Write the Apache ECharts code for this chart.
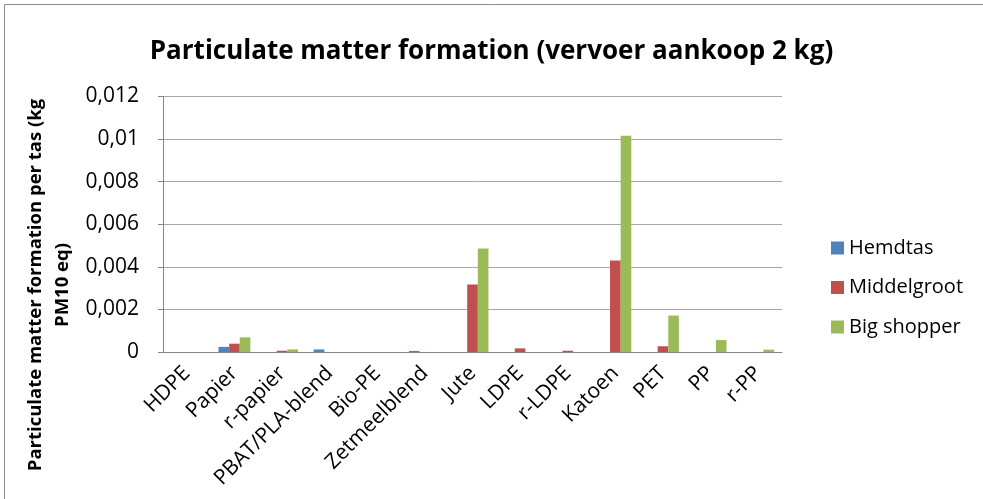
<!DOCTYPE html>
<html>
<head>
<meta charset="utf-8">
<script src="https://cdn.jsdelivr.net/npm/echarts@6/dist/echarts.min.js"></script>
<style>html,body{margin:0;padding:0;background:#fff}#c{width:983px;height:499px}</style>
</head>
<body>
<div id="c"></div>
<script>
var categories = ['HDPE','Papier','r-papier','PBAT/PLA-blend','Bio-PE','Zetmeelblend','Jute','LDPE','r-LDPE','Katoen','PET','PP','r-PP'];
var hemdtas     = [0, 0.00024, 0, 0.00012, 0, 0.00005, 0, 0, 0, 0, 0, 0, 0];
var middelgroot = [0, 0.00039, 0.00006, 0, 0, 0, 0.00317, 0.00017, 0.00006, 0.0043, 0.00027, 0, 0];
var bigShopper  = [0, 0.00069, 0.00012, 0, 0, 0, 0.00486, 0, 0, 0.01016, 0.00171, 0.00056, 0.00011];
var yTicks = {min: 0, max: 0.012, interval: 0.002};

var font = 'Open Sans, Noto Sans, sans-serif';
var chart = echarts.init(document.getElementById('c'), null, {renderer: 'canvas'});
function fmt(v){ return v === 0 ? '0' : String(+v.toFixed(3)).replace('.', ','); }
var axisGray = '#868686';
chart.setOption({
  animation: false,
  backgroundColor: '#fff',
  title: {
    text: 'Particulate matter formation (vervoer aankoop 2 kg)',
    left: 'center', top: 34,
    textStyle: {fontFamily: font, fontSize: 26, fontWeight: 'bold', color: '#000'}
  },
  legend: {
    orient: 'vertical', left: 826, top: 233, itemGap: 19.5,
    itemWidth: 13, itemHeight: 13, icon: 'rect',
    textStyle: {fontFamily: font, fontSize: 20, color: '#000'}
  },
  grid: {left: 163, right: 201, top: 96.5, bottom: 147},
  xAxis: {
    type: 'category', data: categories,
    axisLine: {lineStyle: {color: axisGray}},
    axisTick: {alignWithLabel: false, length: 6, lineStyle: {color: axisGray}},
    axisLabel: {rotate: 45, fontFamily: font, fontSize: 21, color: '#000', margin: 18, interval: 0}
  },
  yAxis: {
    type: 'value', min: yTicks.min, max: yTicks.max, interval: yTicks.interval,
    axisLine: {show: true, lineStyle: {color: axisGray}},
    axisTick: {show: true, length: 5, lineStyle: {color: axisGray}},
    splitLine: {lineStyle: {color: '#a6a6a6'}},
    axisLabel: {fontFamily: font, fontSize: 21, color: '#000', margin: 24, formatter: fmt}
  },
  graphic: [
    {type: 'rect', shape: {x: 4.5, y: 4.5, width: 990, height: 500}, style: {fill: 'none', stroke: '#8c8c8c', lineWidth: 1}, silent: true},
    {type: 'text', x: 49, y: 285, rotation: Math.PI / 2,
     style: {text: 'Particulate matter formation per tas (kg\nPM10 eq)', font: 'bold 18.5px ' + font,
             fill: '#000', align: 'center', verticalAlign: 'middle', lineHeight: 27}}
  ],
  series: [
    {name: 'Hemdtas', type: 'bar', data: hemdtas, itemStyle: {color: '#4F81BD'}, barGap: '0%', barCategoryGap: '33%'},
    {name: 'Middelgroot', type: 'bar', data: middelgroot, itemStyle: {color: '#C0504D'}},
    {name: 'Big shopper', type: 'bar', data: bigShopper, itemStyle: {color: '#9BBB59'}}
  ]
});
</script>
</body>
</html>
